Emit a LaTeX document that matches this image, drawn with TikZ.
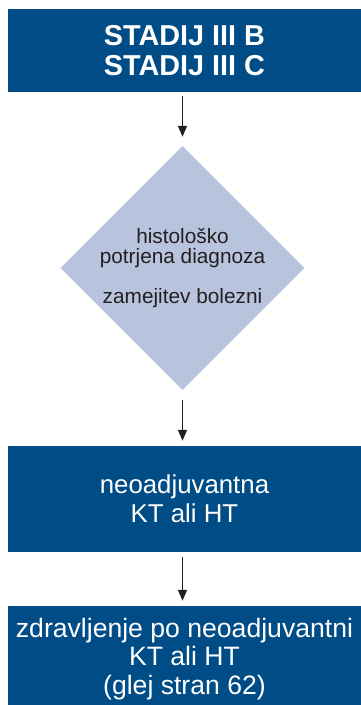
\documentclass[tikz,border=0pt]{standalone}
\usepackage{fontspec}
\setmainfont{Liberation Sans}
\usetikzlibrary{shapes.geometric,arrows.meta}
\definecolor{boxblue}{RGB}{0,76,134}
\definecolor{diafill}{RGB}{184,196,222}
\definecolor{txtdark}{RGB}{35,31,32}
\tikzset{
  bluebox/.style={rectangle, fill=boxblue, text=white, inner sep=0pt, minimum width=353pt, align=center},
  diabox/.style={diamond, fill=diafill, inner sep=0pt, minimum width=244pt, minimum height=244pt},
  arr/.style={-{Triangle[length=11pt,width=9pt]}, line width=1.4pt, draw=txtdark},
}
\begin{document}
\begin{tikzpicture}[x=1pt,y=-1pt]
\useasboundingbox (0,0) rectangle (361,705);
\node[bluebox, minimum height=83pt, font={\fontsize{28.8}{30}\selectfont\bfseries}] (top) at (184.5,50.5) {STADIJ III B\\STADIJ III C};
\node[diabox] (dia) at (182.5,268) {};
\node[align=center, text=txtdark, inner sep=0pt, font={\fontsize{20.8}{20}\selectfont}] (diatext) at (182.5,268) {histološko\\potrjena diagnoza\\[20pt]zamejitev bolezni};
\node[bluebox, minimum height=106pt, font={\fontsize{25.8}{29}\selectfont}] (neo) at (184.5,499) {neoadjuvantna\\KT ali HT};
\node[bluebox, minimum height=106pt, font={\fontsize{26.6}{28.5}\selectfont}] (zdr) at (184.5,659) {zdravljenje po neoadjuvantni\\KT ali HT\\(glej stran 62)};
\draw[arr, shorten <=4pt, shorten >=9pt] (top.south -| dia.north) -- (dia.north);
\draw[arr, shorten <=10pt, shorten >=5pt] (dia.south) -- (neo.north -| dia.south);
\draw[arr, shorten <=5pt, shorten >=5pt] (neo.south -| dia.south) -- (zdr.north -| dia.south);
\end{tikzpicture}
\end{document}
